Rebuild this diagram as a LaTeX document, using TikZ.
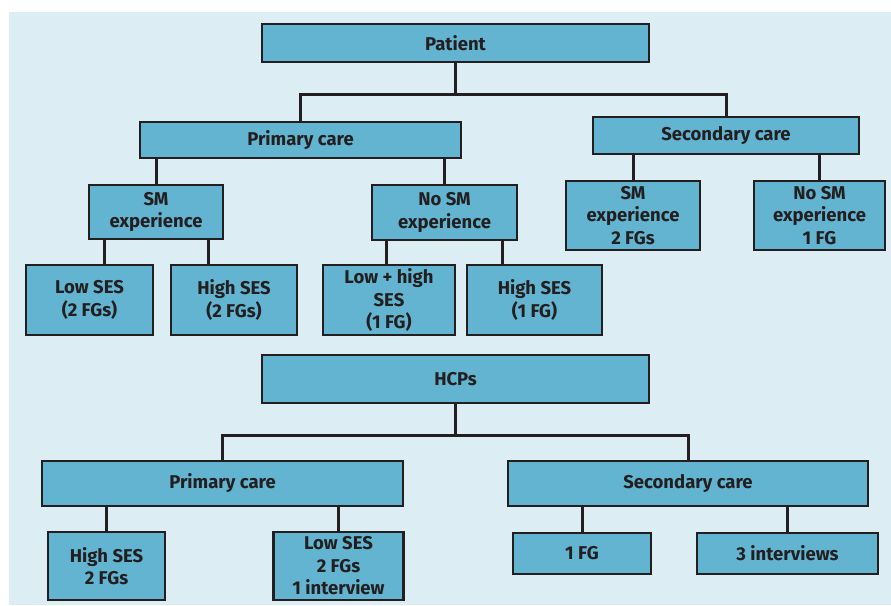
\documentclass[tikz,border=0pt]{standalone}
\usepackage{fontspec}
\setmainfont{Fira Sans}
\usepackage{tikz}
\usetikzlibrary{positioning}
\definecolor{bgblue}{HTML}{DCEDF4}
\definecolor{boxblue}{HTML}{62B4D0}
\definecolor{inkgray}{HTML}{231F20}

\begin{document}
\begin{tikzpicture}[x=1pt, y=-1pt,
  box/.style={draw=inkgray, fill=boxblue, line width=2.6pt, inner sep=0pt,
    text=inkgray, align=center,
    font=\fontsize{18.5}{22.5}\selectfont\bfseries},
  link/.style={draw=inkgray, line width=3pt}
]
\useasboundingbox (0,0) rectangle (891,605);
\fill[bgblue] (9,12) rectangle (891,605);

% patient tree
\node[box, minimum width=387, minimum height=38] (patient) at (455.5,43) {Patient};
\node[box, minimum width=321, minimum height=36] (pcare) at (300.5,140) {Primary care};
\node[box, minimum width=266, minimum height=37] (scare) at (726,135.5) {Secondary care};
\node[box, minimum width=134, minimum height=54] (smexp) at (156,212) {SM\\experience};
\node[box, minimum width=145, minimum height=55] (nosmexp) at (444.5,212.5) {No SM\\experience};
\node[box, minimum width=127, minimum height=70] (lowses) at (89.5,300) {Low SES\\(2 FGs)};
\node[box, minimum width=126, minimum height=70] (highses) at (234,300) {High SES\\(2 FGs)};
\node[box, minimum width=132, minimum height=70] (lowhigh) at (389,300) {Low + high\\SES\\(1 FG)};
\node[box, minimum width=135, minimum height=70] (highone) at (534.5,300) {High SES\\(1 FG)};
\node[box, minimum width=134, minimum height=69] (smtwo) at (633,215.5) {SM\\experience\\2 FGs};
\node[box, minimum width=131, minimum height=69] (nosmone) at (819.5,215.5) {No SM\\experience\\1 FG};

\coordinate (pjoin) at (455.5,94);
\draw[link] (patient.south) -- (pjoin);
\draw[link] (pcare.north) |- (pjoin) -| (scare.north);
\draw[link] (smexp.north) -- (smexp.north |- pcare.south);
\draw[link] (nosmexp.north) -- (nosmexp.north |- pcare.south);
\draw[link] ([xshift=17pt]smexp.south west) -- ([xshift=17pt]smexp.south west |- lowses.north);
\draw[link] ([xshift=-16pt]smexp.south east) -- ([xshift=-16pt]smexp.south east |- highses.north);
\draw[link] ([xshift=16pt]nosmexp.south west) -- ([xshift=16pt]nosmexp.south west |- lowhigh.north);
\draw[link] ([xshift=-16pt]nosmexp.south east) -- ([xshift=-16pt]nosmexp.south east |- highone.north);
\draw[link] (smtwo.north) -- (smtwo.north |- scare.south);
\draw[link] (nosmone.north) -- (nosmone.north |- scare.south);

% HCP tree
\node[box, minimum width=387, minimum height=48] (hcp) at (455.5,379) {HCPs};
\node[box, minimum width=361, minimum height=45] (hpcare) at (222.5,483.5) {Primary care};
\node[box, minimum width=360, minimum height=45] (hscare) at (688,483.5) {Secondary care};
\node[box, minimum width=117, minimum height=68] (hhigh) at (106.5,566) {High SES\\2 FGs};
\node[box, minimum width=130, minimum height=68] (hlow) at (338.5,566) {Low SES\\2 FGs\\1 interview};
\node[box, minimum width=138, minimum height=41] (honefg) at (582,553.5) {1 FG};
\node[box, minimum width=181, minimum height=41] (hinter) at (787.5,553.5) {3 interviews};

\coordinate (hjoin) at (455.5,435);
\draw[link] (hcp.south) -- (hjoin);
\draw[link] (hpcare.north) |- (hjoin) -| (hscare.north);
\draw[link] (hhigh.north) -- (hhigh.north |- hpcare.south);
\draw[link] (hlow.north) -- (hlow.north |- hpcare.south);
\draw[link] (honefg.north) -- (honefg.north |- hscare.south);
\draw[link] (hinter.north) -- (hinter.north |- hscare.south);
\end{tikzpicture}
\end{document}
